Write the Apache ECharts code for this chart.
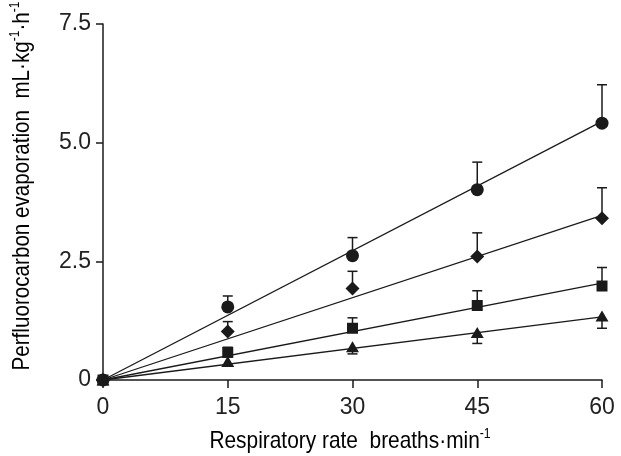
<!DOCTYPE html>
<html>
<head>
<meta charset="utf-8">
<script src="https://cdn.jsdelivr.net/npm/echarts@6/dist/echarts.min.js"></script>
<style>
html,body{margin:0;padding:0;background:#fff;}
#chart{width:621px;height:456px;}
</style>
</head>
<body>
<div id="chart"></div>
<script>
// ---- data ----
const xValues = [0, 15, 30, 45, 60];
const xTicks = [0, 15, 30, 45, 60];
const yTicks = [0, 2.5, 5.0, 7.5];

const circleMean = [0, 1.54, 2.62, 4.01, 5.41];
const circleErrTop = [null, 1.77, 3.00, 4.59, 6.22];
const diamondMean = [0, 1.02, 1.93, 2.60, 3.41];
const diamondErrTop = [null, 1.23, 2.29, 3.10, 4.05];
const squareMean = [0, 0.58, 1.09, 1.57, 1.98];
const squareErrTop = [null, 0.69, 1.31, 1.88, 2.37];
const triangleMean = [0, 0.39, 0.70, 1.00, 1.35];
const triangleErrBottom = [null, null, 0.55, 0.77, 1.09];

const fitX = [0, 60];
const circleFit = [0, 5.45];
const diamondFit = [0, 3.47];
const squareFit = [0, 2.04];
const triangleFit = [0, 1.33];

const xTitle = '{b|Respiratory rate  breaths·min}{s|-1}';
const yTitle = '{b|Perfluorocarbon evaporation  mL·kg}{s|-1}{b|·h}{s|-1}';

// ---- styling ----
const FONT = "'Liberation Sans', Arial, sans-serif";
const INK = '#1a1a1a';
const TXT = '#222';

function pairs(xs, ys) { return xs.map((x, i) => [x, ys[i]]); }
function errData(xs, mean, ends) {
  const out = [];
  xs.forEach((x, i) => { if (ends[i] != null) out.push([x, mean[i], ends[i]]); });
  return out;
}

function errSeries(data) {
  return {
    type: 'custom',
    z: 1,
    silent: true,
    data: data,
    encode: { x: 0, y: [1, 2] },
    renderItem: function (params, api) {
      const x = api.value(0);
      const p0 = api.coord([x, api.value(1)]);
      const p1 = api.coord([x, api.value(2)]);
      const hw = 5;
      const st = { stroke: INK, lineWidth: 1.5, fill: null };
      return {
        type: 'group',
        children: [
          { type: 'line', shape: { x1: p0[0], y1: p0[1], x2: p1[0], y2: p1[1] }, style: st },
          { type: 'line', shape: { x1: p1[0] - hw, y1: p1[1], x2: p1[0] + hw, y2: p1[1] }, style: st }
        ]
      };
    }
  };
}

function fitSeries(ys) {
  return {
    type: 'line',
    data: pairs(fitX, ys),
    symbol: 'none',
    silent: true,
    z: 2,
    lineStyle: { color: INK, width: 1.3 }
  };
}

function markSeries(ys, symbol, size) {
  return {
    type: 'scatter',
    data: pairs(xValues, ys),
    symbol: symbol,
    symbolSize: size,
    z: 3,
    itemStyle: { color: INK, opacity: 1 }
  };
}

const chart = echarts.init(document.getElementById('chart'), null, { renderer: 'canvas' });

const sup = { fontSize: 14, fontFamily: FONT, color: TXT, verticalAlign: 'top', lineHeight: 14 };
const base = { fontSize: 24, fontFamily: FONT, color: TXT, lineHeight: 28 };

chart.setOption({
  animation: false,
  backgroundColor: '#fff',
  grid: { left: 103, right: 19, top: 24, bottom: 76, containLabel: false },
  xAxis: {
    type: 'value',
    min: xTicks[0],
    max: xTicks[xTicks.length - 1],
    interval: 15,
    splitLine: { show: false },
    axisLine: { lineStyle: { color: INK, width: 1.5 } },
    axisTick: { show: true, length: 8, lineStyle: { color: INK, width: 1.5 } },
    axisLabel: { fontSize: 23, fontFamily: FONT, color: TXT, margin: 16 }
  },
  yAxis: {
    type: 'value',
    min: yTicks[0],
    max: yTicks[yTicks.length - 1],
    interval: 2.5,
    splitLine: { show: false },
    axisLine: { show: true, lineStyle: { color: INK, width: 1.5 } },
    axisTick: { show: true, length: 7, lineStyle: { color: INK, width: 1.5 } },
    axisLabel: {
      fontSize: 23, fontFamily: FONT, color: TXT, margin: 12,
      formatter: function (v) { return v === 0 ? '0' : v.toFixed(1); }
    }
  },
  graphic: [{
    type: 'text',
    x: 350,
    y: 441,
    scaleX: 0.87,
    style: {
      text: xTitle,
      align: 'center',
      verticalAlign: 'middle',
      rich: { b: base, s: sup }
    }
  }, {
    type: 'text',
    x: 22,
    y: 186,
    rotation: Math.PI / 2,
    scaleX: 0.86,
    style: {
      text: yTitle,
      align: 'center',
      verticalAlign: 'middle',
      rich: { b: base, s: sup }
    }
  }],
  series: [
    errSeries(errData(xValues, circleMean, circleErrTop)),
    errSeries(errData(xValues, diamondMean, diamondErrTop)),
    errSeries(errData(xValues, squareMean, squareErrTop)),
    errSeries(errData(xValues, triangleMean, triangleErrBottom)),
    fitSeries(circleFit),
    fitSeries(diamondFit),
    fitSeries(squareFit),
    fitSeries(triangleFit),
    markSeries(circleMean, 'circle', 13),
    markSeries(diamondMean, 'diamond', 14),
    markSeries(squareMean, 'rect', 11),
    markSeries(triangleMean, 'triangle', [13, 11])
  ]
});
</script>
</body>
</html>
